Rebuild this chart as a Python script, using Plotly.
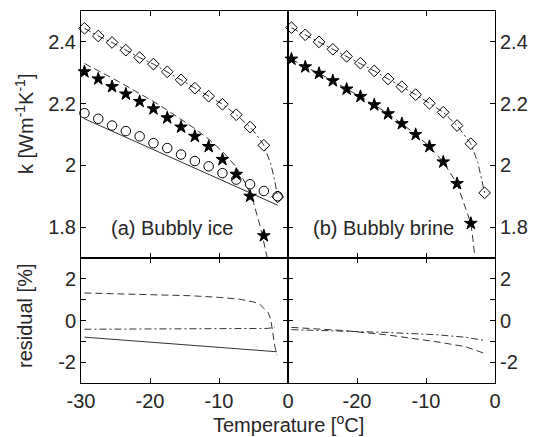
import plotly.graph_objects as go

# ---------------- data ----------------
T_pts = [-29.5, -27.5, -25.5, -23.5, -21.5, -19.5, -17.5, -15.5, -13.5, -11.5, -9.5, -7.5, -5.5, -3.5, -1.5]
T_star = T_pts[:-1]

# (a) Bubbly ice
a_diamond = [2.444, 2.419, 2.398, 2.373, 2.349, 2.328, 2.303, 2.277, 2.250, 2.224, 2.198, 2.164, 2.124, 2.065, 1.898]
a_star = [2.303, 2.280, 2.255, 2.231, 2.207, 2.183, 2.154, 2.124, 2.094, 2.061, 2.019, 1.971, 1.900, 1.772]
a_circle = [2.169, 2.151, 2.129, 2.111, 2.094, 2.072, 2.056, 2.035, 2.014, 1.997, 1.975, 1.954, 1.939, 1.917, 1.900]

a_dash_T = [-29.5, -27.5, -25.5, -23.5, -21.5, -19.5, -17.5, -15.5, -13.5, -11.5, -9.5, -7.5, -6.0, -5.0, -4.0, -3.3, -2.8]
a_dash_k = [2.330, 2.307, 2.283, 2.258, 2.233, 2.207, 2.179, 2.150, 2.119, 2.085, 2.045, 1.995, 1.935, 1.880, 1.800, 1.730, 1.680]
a_dd_T = [-29.5, -27.5, -25.5, -23.5, -21.5, -19.5, -17.5, -15.5, -13.5, -11.5, -9.5, -7.5, -5.5, -4.5, -3.5, -2.5, -2.0, -1.5]
a_dd_k = [2.444, 2.419, 2.398, 2.373, 2.349, 2.328, 2.303, 2.277, 2.250, 2.224, 2.198, 2.164, 2.124, 2.098, 2.065, 2.005, 1.958, 1.898]
a_solid_T = [-29.5, -1.5]
a_solid_k = [2.151, 1.871]

# (b) Bubbly brine
b_diamond = [2.446, 2.423, 2.400, 2.376, 2.353, 2.331, 2.306, 2.280, 2.255, 2.229, 2.201, 2.172, 2.129, 2.070, 1.911]
b_star = [2.344, 2.319, 2.298, 2.274, 2.247, 2.223, 2.196, 2.167, 2.135, 2.100, 2.061, 2.011, 1.941, 1.812]
b_dash_T = T_star + [-3.2, -2.8]
b_dash_k = b_star + [1.760, 1.680]
b_dd_T = T_pts[:-1] + [-2.5, -2.0, -1.5]
b_dd_k = b_diamond[:-1] + [2.010, 1.965, 1.911]

# residuals [%]
ra_dash_T = [-29.5, -22.0, -14.2, -9.9, -7.0, -5.0, -4.1, -2.85, -2.5, -2.2, -1.9, -1.6]
ra_dash_r = [1.32, 1.27, 1.19, 1.11, 1.02, 0.89, 0.78, 0.37, 0.05, -0.60, -1.25, -1.66]
ra_dd_T = [-29.5, -15.0, -3.0, -1.9]
ra_dd_r = [-0.42, -0.40, -0.38, -0.33]
ra_solid_T = [-29.5, -1.6]
ra_solid_r = [-0.80, -1.50]

rb_dash_T = [-29.5, -22.0, -15.9, -8.7, -4.35, -1.5]
rb_dash_r = [-0.33, -0.48, -0.68, -1.01, -1.25, -1.58]
rb_dd_T = [-29.5, -22.0, -15.9, -8.7, -4.35, -1.5]
rb_dd_r = [-0.44, -0.50, -0.57, -0.68, -0.80, -0.96]

k_ticks = [1.8, 2.0, 2.2, 2.4]
k_ticktext = ["1.8", "2", "2.2", "2.4"]
r_ticks = [-2, -1, 0, 1, 2]
r_ticktext = ["-2", "", "0", "", "2"]

# ---------------- styling ----------------
LC = "#333333"
TXT = "#262626"
FONT = "Liberation Sans, Arial, sans-serif"
FS = 20
DASH = "7px,4px"
DASHDOT = "7px,3px,2px,3px"

fig = go.Figure()

def line(x, y, dash, xa, ya):
    fig.add_trace(go.Scatter(x=x, y=y, mode="lines", xaxis=xa, yaxis=ya,
                             line=dict(color=LC, width=1, dash=dash), showlegend=False,
                             hoverinfo="skip"))

def marks(x, y, sym, size, xa, ya, fill=False):
    fig.add_trace(go.Scatter(x=x, y=y, mode="markers", xaxis=xa, yaxis=ya,
                             marker=dict(symbol=sym, size=size,
                                         color="black" if fill else "rgba(0,0,0,0)",
                                         line=dict(color="black", width=1)),
                             showlegend=False, cliponaxis=False))

# top-left
line(a_solid_T, a_solid_k, "solid", "x", "y")
line(a_dash_T, a_dash_k, DASH, "x", "y")
line(a_dd_T, a_dd_k, DASHDOT, "x", "y")
marks(T_pts, a_diamond, "diamond", 9, "x", "y")
marks(T_pts, a_circle, "circle", 9.5, "x", "y")
marks(T_star, a_star, "star", 9.5, "x", "y", fill=True)

# top-right
line(b_dash_T, b_dash_k, DASH, "x2", "y2")
line(b_dd_T, b_dd_k, DASHDOT, "x2", "y2")
marks(T_pts, b_diamond, "diamond", 9, "x2", "y2")
marks(T_star, b_star, "star", 9.5, "x2", "y2", fill=True)

# bottom-left
line(ra_solid_T, ra_solid_r, "solid", "x3", "y3")
line(ra_dash_T, ra_dash_r, DASH, "x3", "y3")
line(ra_dd_T, ra_dd_r, DASHDOT, "x3", "y3")

# bottom-right
line(rb_dash_T, rb_dash_r, DASH, "x4", "y4")
line(rb_dd_T, rb_dd_r, DASHDOT, "x4", "y4")

split = 125 / 372.0

axcommon = dict(showline=True, linecolor="black", linewidth=1, mirror="ticks",
                ticks="inside", ticklen=5, tickcolor="black", showgrid=False,
                zeroline=False, automargin=False,
                tickfont=dict(family=FONT, size=FS, color=TXT))

fig.update_layout(
    width=536, height=437,
    margin=dict(l=81, r=41, t=11, b=54),
    plot_bgcolor="white", paper_bgcolor="white",
    xaxis=dict(axcommon, domain=[0, 0.5], range=[-30, 0], anchor="y",
               tickvals=[-30, -20, -10, 0], showticklabels=False),
    xaxis2=dict(axcommon, domain=[0.5, 1], range=[-30, 0], anchor="y2",
                tickvals=[-30, -20, -10, 0], showticklabels=False),
    xaxis3=dict(axcommon, domain=[0, 0.5], range=[-30, 0], anchor="y3",
                tickvals=[-30, -20, -10, 0], ticktext=["-30", "-20", "-10", "0"]),
    xaxis4=dict(axcommon, domain=[0.5, 1], range=[-30, 0], anchor="y4",
                tickvals=[-30, -20, -10, 0], ticktext=["", "-20", "-10", "0"]),
    yaxis=dict(axcommon, domain=[split, 1], range=[1.7, 2.5], anchor="x",
               tickvals=k_ticks, ticktext=k_ticktext),
    yaxis2=dict(axcommon, domain=[split, 1], range=[1.7, 2.5], anchor="x2", side="right",
                tickvals=k_ticks, ticktext=k_ticktext),
    yaxis3=dict(axcommon, domain=[0, split], range=[-3, 3], anchor="x3",
                tickvals=r_ticks, ticktext=r_ticktext),
    yaxis4=dict(axcommon, domain=[0, split], range=[-3, 3], anchor="x4", side="right",
                tickvals=r_ticks, ticktext=r_ticktext),
)

annots = [
    dict(text="(a) Bubbly ice", x=-16.8, y=1.797, xref="x", yref="y"),
    dict(text="(b) Bubbly brine", x=-16.1, y=1.797, xref="x2", yref="y2"),
    dict(text="k [Wm<sup>-1</sup>K<sup>-1</sup>]", x=(25 - 81) / 414, y=(383 - 124) / 372,
         xref="paper", yref="paper", textangle=-90),
    dict(text="residual [%]", x=(25 - 81) / 414, y=(383 - 316) / 372,
         xref="paper", yref="paper", textangle=-90),
    dict(text="Temperature [<sup>o</sup>C]", x=0.5, y=(383 - 424) / 372,
         xref="paper", yref="paper"),
]
for a in annots:
    a["font"] = dict(family=FONT, size=FS, color=TXT)
    a["showarrow"] = False
    a["xanchor"] = "center"
    a["yanchor"] = "middle"
    fig.add_annotation(**a)

fig.write_html("out.html", config={"displayModeBar": False},
               post_script="document.body.style.margin='0';document.body.style.overflow='hidden';")
